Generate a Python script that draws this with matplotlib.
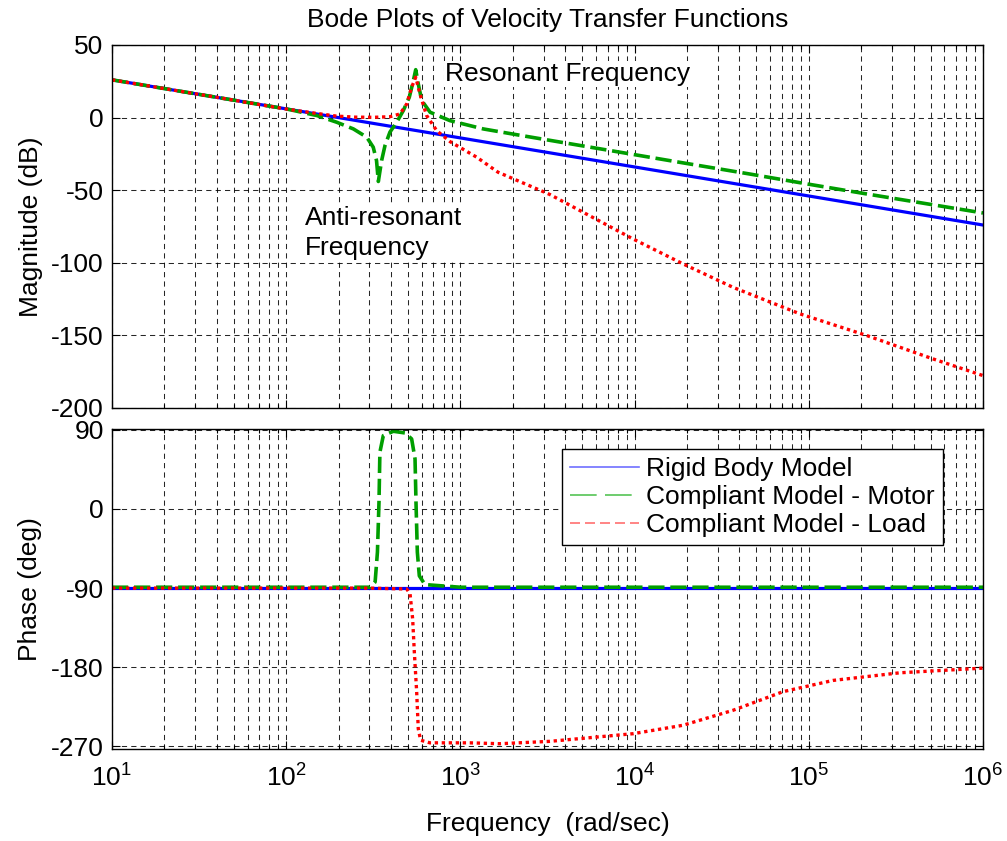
#!/usr/bin/env python3
"""
Bode plots of the velocity transfer functions (rigid body vs compliant model).
Values read off the reference chart.
"""

import numpy as np
import matplotlib
matplotlib.use("Agg")
import matplotlib.pyplot as plt
from matplotlib.lines import Line2D
from matplotlib.ticker import LogLocator, FixedLocator

plt.rcParams['font.family'] = ['Liberation Sans', 'DejaVu Sans']
plt.rcParams['mathtext.fontset'] = 'custom'
plt.rcParams['mathtext.rm'] = 'Liberation Sans'
plt.rcParams['mathtext.it'] = 'Liberation Sans'
plt.rcParams['axes.unicode_minus'] = False

# --- data (rad/sec, dB, deg) ---
w_rigid = [10, 100, 1e3, 1e4, 1e5, 1e6]
mag_rigid = [26, 6, -14, -34, -54, -74]
phase_rigid = [-90, -90, -90, -90, -90, -90]

w_motor_mag = [10, 50, 100, 150, 195, 243, 290, 316, 330, 338, 353, 369, 394,
               431, 470, 509, 537, 554, 573, 600, 670, 871, 1352, 2105, 6320,
               19000, 46000, 100000, 215000, 1e6]
mag_motor = [26, 12, 6, 1.4, -3.2, -7.8, -13.5, -20.4, -29.6, -44, -29.6,
             -19.3, -10, -3.2, 4.8, 14, 25.5, 33, 23.2, 11.7, 3.7, -2.1, -7.8,
             -11.8, -21.5, -31.2, -38.9, -45.9, -52.6, -65.7]

w_motor_ph = [10, 303, 324, 334, 341, 345, 361, 412, 481, 525, 549, 556, 566,
              581, 626, 1000, 1e6]
phase_motor = [-89, -89, -83, -49, 8, 64.5, 83.5, 88.4, 86.5, 79.7, 57, 8,
               -49, -76, -86, -89, -89]

w_load_mag = [10, 50, 96, 143, 195, 250, 320, 394, 450, 492, 525, 554, 586,
              640, 731, 871, 1241, 1643, 3266, 9800, 19000, 36700, 89000,
              215000, 516000, 1e6]
mag_load = [26, 12, 6.2, 3.2, 1.0, 0.3, 0.2, 0.6, 2.5, 9.4, 20.9, 27.8, 16.3,
            1.4, -9, -16.5, -27.3, -37.6, -53, -83.6, -100.8, -116.9, -135.2,
            -150.1, -166.2, -177.7]

w_load_ph = [10, 300, 492, 514, 532, 544, 561, 573, 591, 668, 1135, 1686,
             3266, 9800, 18970, 36700, 71100, 137700, 334000, 1e6]
phase_load = [-90, -90, -91, -96.5, -125, -163, -208, -250, -263, -266, -266,
              -267, -264.3, -255.6, -246, -229, -207.8, -195, -186.3, -181]

labels = ['Rigid Body Model', 'Compliant Model - Motor', 'Compliant Model - Load']

# --- styles ---
c_blue = (0, 0, 1)
c_green = (0, 0.62, 0)
c_red = (1, 0, 0)
fs = 19
grid_kw = dict(color='k', linewidth=0.75, linestyle=(0, (5, 4)), alpha=0.85)
note_box = dict(facecolor='white', edgecolor='none', pad=1)

fig = plt.figure(figsize=(10.07, 8.41), dpi=100)
ax1 = fig.add_axes([0.1112, 0.5149, 0.865, 0.4316])
ax2 = fig.add_axes([0.1112, 0.1094, 0.865, 0.3805])

def draw(ax, series):
    ax.semilogx(series[0][0], series[0][1], color=c_blue, linewidth=2.3)
    ax.semilogx(series[1][0], series[1][1], color=c_green, linewidth=2.6,
                linestyle=(0, (4.5, 1.6)))
    ax.semilogx(series[2][0], series[2][1], color=c_red, linewidth=2.4,
                linestyle=(0, (1, 1.1)))

draw(ax1, [(w_rigid, mag_rigid), (w_motor_mag, mag_motor), (w_load_mag, mag_load)])
draw(ax2, [(w_rigid, phase_rigid), (w_motor_ph, phase_motor), (w_load_ph, phase_load)])

for ax in (ax1, ax2):
    ax.set_xlim(10, 1e6)
    ax.xaxis.set_major_locator(LogLocator(base=10, numticks=10))
    ax.xaxis.set_minor_locator(LogLocator(base=10, subs=np.arange(2, 10), numticks=60))
    ax.grid(True, which='major', axis='both', **grid_kw)
    ax.grid(True, which='minor', axis='x', **grid_kw)
    ax.tick_params(which='both', direction='in', top=True, right=True,
                   labelsize=fs, width=0.8)
    ax.tick_params(which='major', length=6)
    ax.tick_params(which='minor', length=3)
    ax.tick_params(axis='y', pad=6)
    ax.tick_params(axis='x', pad=11)
    for s in ax.spines.values():
        s.set_linewidth(1.0)

ax1.set_ylim(-200, 50)
ax1.yaxis.set_major_locator(FixedLocator([-200, -150, -100, -50, 0, 50]))
ax1.tick_params(labelbottom=False)
ax1.set_ylabel('Magnitude (dB)', fontsize=fs, labelpad=6)
ax1.set_title('Bode Plots of Velocity Transfer Functions', fontsize=fs, pad=13)

ax1.text(817, 30, 'Resonant Frequency', fontsize=fs, va='center', ha='left',
         bbox=note_box)
ax1.text(128, -61, 'Anti-resonant\nFrequency', fontsize=fs, va='top', ha='left',
         linespacing=1.3, bbox=note_box)

ax2.set_ylim(-273, 91)
ax2.yaxis.set_major_locator(FixedLocator([-270, -180, -90, 0, 90]))
ax2.set_ylabel('Phase (deg)', fontsize=fs, labelpad=6)
ax2.set_xlabel('Frequency  (rad/sec)', fontsize=fs, labelpad=15)

handles = [
    Line2D([], [], color='#6f6fff', linewidth=1.2),
    Line2D([], [], color='#55c455', linewidth=1.2, linestyle=(0, (16, 5))),
    Line2D([], [], color='#ff6f6f', linewidth=1.2, linestyle=(0, (6, 3))),
]
leg = ax2.legend(handles, labels, loc='upper right', bbox_to_anchor=(0.954, 0.9375),
                 fontsize=fs, fancybox=False, framealpha=1, edgecolor='k',
                 handlelength=2.6, handletextpad=0.3, borderpad=0.3,
                 labelspacing=0.15, borderaxespad=0)
leg.get_frame().set_linewidth(1.0)

fig.savefig('out.png', dpi=100, facecolor='white')
